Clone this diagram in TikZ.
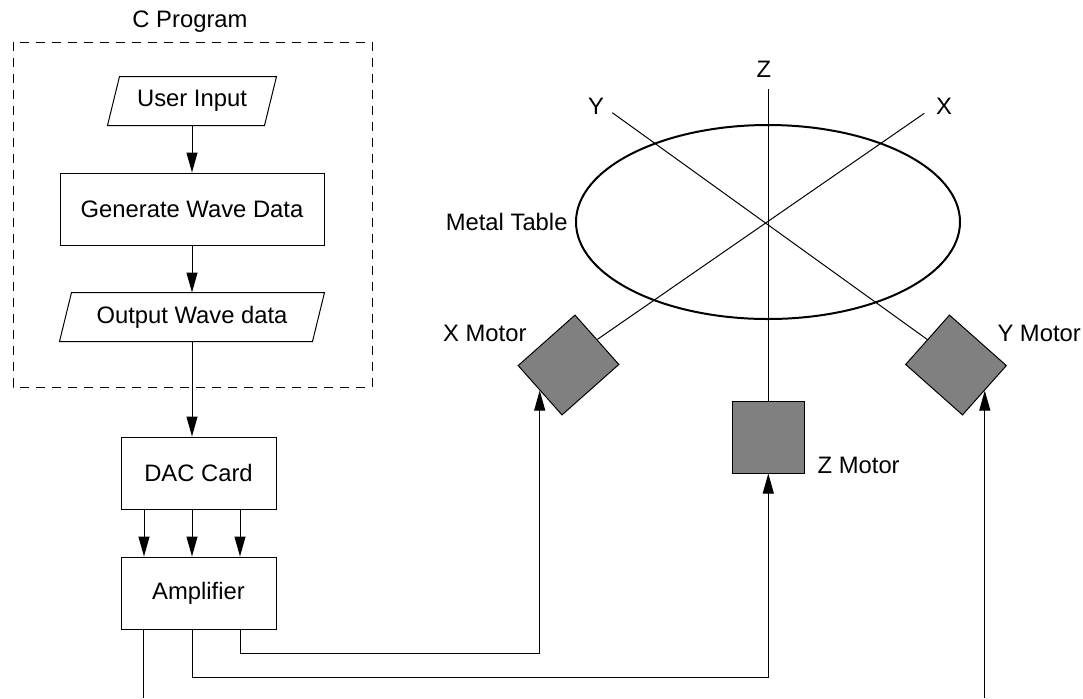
\documentclass[tikz,border=0pt]{standalone}
\usepackage{fontspec}
\setmainfont{Liberation Sans}
\usetikzlibrary{arrows.meta,shapes.geometric}
\newcommand{\labelFont}[0]{\fontsize{11.9pt}{14pt}\selectfont}
\newcommand{\motorTilt}[0]{41.6}

\begin{document}
\begin{tikzpicture}[x=0.5pt, y=-0.5pt, font=\labelFont, line width=0.5pt]
  \tikzset{box/.style={draw, rectangle, inner sep=0pt},
           io/.style={rectangle, inner sep=0pt, minimum height=24pt},
           motor/.style={draw, fill=gray, inner sep=0pt, minimum width=38pt, minimum height=33pt},
           tag/.style={inner sep=0pt},
           sig/.style={-{Triangle[length=10pt,width=5.5pt]}}}
  \useasboundingbox (0,0) rectangle (1083,698);

  % program side
  \draw[dash pattern=on 4.5pt off 3.5pt] (13,42) rectangle (372,387);
  \node[tag] (cprog) at (190,22) {C Program};
  \node[io, minimum width=78pt] (input) at (192,101) {User Input};
  \node[box, minimum width=132pt, minimum height=36pt] (gen) at (192,209) {Generate Wave Data};
  \node[io, minimum width=126pt] (output) at (192,317) {Output Wave data};
  \node[box, minimum width=77.5pt, minimum height=36pt] (dac) at (198.5,473) {DAC Card};
  \node[box, minimum width=77.5pt, minimum height=36pt] (amp) at (198.5,593) {Amplifier};
  % slanted data boxes
  \foreach \n in {input,output}
    \draw ([xshift=-3pt]\n.south west) -- ([xshift=3pt]\n.north west)
       -- ([xshift=3pt]\n.north east) -- ([xshift=-3pt]\n.south east) -- cycle;

  \draw[sig] (input) -- (gen);
  \draw[sig] (gen) -- (output);
  \draw[sig] (output.south) -- (output.south |- dac.north);
  \foreach \x in {144,192,240}
    \draw[sig] (\x,0 |- dac.south) -- (\x,0 |- amp.north);

  % table and motors
  \node[draw, ellipse, line width=1pt, inner sep=0pt, minimum width=192pt, minimum height=97pt] (table) at (768,222) {};
  \node[tag, anchor=east] (tablelbl) at ([xshift=-3.5pt]table.west) {Metal Table};

  \coordinate (zend) at (768.3,89);
  \coordinate (yend) at (612.3,112.7);
  \coordinate (xend) at (924.3,113.3);
  \node[tag] (zlbl) at (764,69) {Z};
  \node[tag] (ylbl) at (596,106) {Y};
  \node[tag] (xlbl) at (944,106) {X};

  \node[motor, rotate=\motorTilt] (xm) at (568.5,365) {};
  \node[motor, rotate=-\motorTilt] (ym) at (956,365) {};
  \node[motor, minimum width=36pt, minimum height=36pt] (zm) at (768.3,437) {};
  \node[tag, anchor=base east] (xmlbl) at (527,341.5) {X Motor};
  \node[tag, anchor=base west] (ymlbl) at (997,341.5) {Y Motor};
  \node[tag, anchor=base west] (zmlbl) at ([xshift=6.2pt]zm.south east) {Z Motor};

  \draw (zm.north) -- (zend);
  \draw (xm.east) -- (xend);
  \draw (ym.west) -- (yend);

  % amplifier outputs
  \coordinate (cutl) at (143.3,698);
  \coordinate (cutr) at (ym.east |- 0,698);
  \draw (cutl |- amp.south) -- (cutl);
  \draw[sig] (240,0 |- amp.south) |- (xm.west |- 0,653) -- (xm.west);
  \draw[sig] (192,0 |- amp.south) |- (zm.south |- 0,677) -- (zm.south);
  \draw[sig] (cutr) -- (ym.east);
\end{tikzpicture}
\end{document}
